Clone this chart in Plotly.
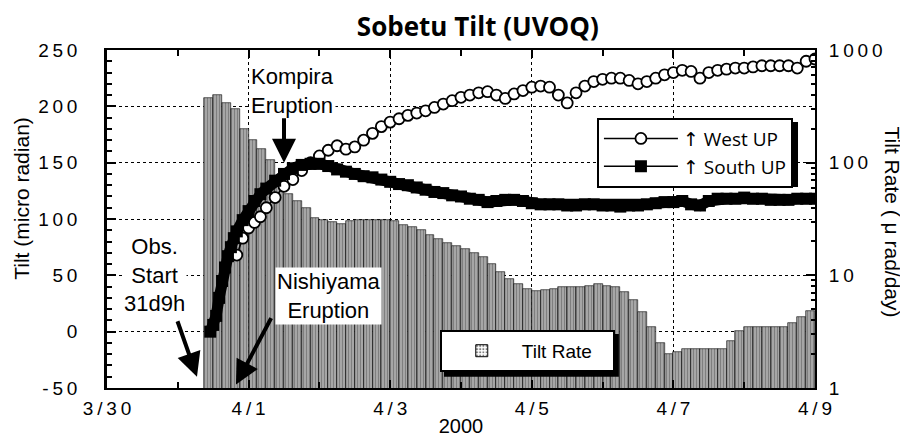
import pandas as pd
import plotly.graph_objects as go

# ---------------- data ----------------
# Tilt rate (micro rad/day), 3-hourly bars starting 2000-03-31 09:00
rate = [372, 398, 339, 302, 200, 158, 132, 105, 70.8, 52.5,
        45.7, 39.8, 32.4, 30.9, 29.5, 28.8, 30.2, 30.9, 30.9, 30.9,
        30.9, 30.2, 28.2, 26.9, 25.1, 22.9, 20.9, 19.5, 18.2, 17.0,
        15.8, 14.5, 12.6, 10.7, 9.3, 8.3, 7.6, 7.2, 7.4, 7.6,
        7.8, 7.8, 7.9, 8.1, 8.3, 8.1, 7.8, 7.1, 6.0, 4.7,
        3.5, 2.5, 2.0, 2.1, 2.2, 2.2, 2.2, 2.2, 2.2, 2.6,
        3.2, 3.5, 3.5, 3.5, 3.5, 3.5, 3.8, 4.3, 4.8]

# sample times of the tilt series: hours after 2000-03-31 00:00
line_hours = [11, 12, 13, 14, 15, 16, 17, 18, 19, 20, 22, 24, 26, 28, 30,
              33, 36, 39, 42, 45, 48, 51, 54, 57, 60,
              63, 66, 69, 72, 75, 78, 81, 84, 87, 90,
              93, 96, 99, 102, 105, 108, 111, 114, 117, 120,
              123, 126, 129, 132, 135, 138, 141, 144, 147, 150,
              153, 156, 159, 162, 165, 168, 171, 174, 177, 180,
              183, 186, 189, 192, 195, 198, 201, 204, 207, 210,
              213, 216]

south_up = [0, 6, 14, 30, 45, 57, 67, 75, 83, 89, 99, 107, 116, 122, 127,
            134, 140, 145, 148, 149, 149, 147, 144, 142, 140,
            138, 137, 135, 133, 131, 130, 128, 126, 124, 123,
            121, 120, 118, 117, 115, 116, 117, 117, 116, 114,
            113, 113, 113, 112, 112, 113, 113, 112, 112, 111,
            112, 112, 113, 114, 115, 115, 116, 113, 112, 116,
            118, 118, 118, 119, 118, 118, 117, 117, 117, 118,
            118, 118]

west_up = [None, None, None, None, None, None, None, None, None, 68, 83, 92, 97, 102, 110,
           119, 129, 135, 143, 150, 156, 161, 165, 162, 164,
           170, 176, 182, 186, 189, 192, 194, 196, 199, 202,
           205, 208, 210, 212, 213, 210, 207, 211, 214, 217,
           218, 217, 210, 203, 212, 218, 222, 224, 225, 225,
           223, 220, 222, 225, 228, 230, 232, 231, 225, 230,
           232, 233, 234, 234, 235, 236, 236, 236, 236, 234,
           240, 242]

x_tick_dates = ["2000-03-30", "2000-04-01", "2000-04-03", "2000-04-05", "2000-04-07", "2000-04-09"]
x_tick_labels = ["3/30", "4/1", "4/3", "4/5", "4/7", "4/9"]
left_ticks = [-50, 0, 50, 100, 150, 200, 250]
right_ticks = [1, 10, 100, 1000]

# ---------------- build ----------------
thin = "\u2009"
spaced = lambda s: thin.join(str(s))

t0 = pd.Timestamp("2000-03-31 00:00")
bar_x = pd.date_range("2000-03-31 10:30", periods=len(rate), freq="3h")
line_x = [t0 + pd.Timedelta(hours=h) for h in line_hours]

TICKFONT = dict(family="Liberation Sans, Arial", size=19, color="black")
TXT = dict(family="Liberation Sans, Arial", size=22, color="black")
nb = "\u00a0"

fig = go.Figure()

fig.add_trace(go.Bar(
    x=bar_x, y=rate, width=3 * 3600 * 1000, yaxis="y", name="Tilt Rate",
    legend="legend2", showlegend=False,
    marker=dict(color="white",
                pattern=dict(shape="|", fgcolor="black", bgcolor="white", size=3, solidity=0.8),
                line=dict(color="black", width=0.6)),
))
fig.add_trace(go.Bar(
    x=[None], y=[None], yaxis="y", name="Tilt Rate" + nb * 3, legend="legend2",
    marker=dict(color="white",
                pattern=dict(shape=".", fgcolor="black", bgcolor="white", size=4, solidity=0.35),
                line=dict(color="black", width=1)),
))
# thick band drawn under the South markers
fig.add_trace(go.Scatter(
    x=line_x, y=south_up, yaxis="y2", mode="lines", showlegend=False, hoverinfo="skip",
    line=dict(color="black", width=11),
))
fig.add_trace(go.Scatter(
    x=line_x, y=west_up, yaxis="y2", name="\u2191 West UP", mode="lines+markers",
    line=dict(color="black", width=1.5),
    marker=dict(symbol="circle", size=11, color="white", line=dict(color="black", width=1.8)),
))
fig.add_trace(go.Scatter(
    x=line_x, y=south_up, yaxis="y2", name="\u2191 South UP", mode="lines+markers",
    line=dict(color="black", width=1.5),
    marker=dict(symbol="square", size=12, color="black", line=dict(color="black", width=0)),
))

fig.update_layout(
    width=900, height=433,
    margin=dict(l=99, r=93, t=42, b=53, autoexpand=False),
    paper_bgcolor="white", plot_bgcolor="white",
    barmode="overlay", bargap=0,
    title=dict(text="<b>Sobetu Tilt (UVOQ)</b>", x=0.522, xanchor="center", y=0.957, yanchor="middle",
               font=dict(family="Open Sans", size=26, color="black")),
    xaxis=dict(
        type="date", range=["2000-03-30", "2000-04-09"], automargin=False,
        tickmode="array", tickvals=x_tick_dates, ticktext=[spaced(s) for s in x_tick_labels],
        ticks="inside", ticklen=8, tickwidth=1.5, tickcolor="black",
        showline=True, linewidth=2, linecolor="black", mirror="ticks",
        showgrid=True, gridcolor="black", griddash="dot", gridwidth=1,
        minor=dict(dtick=86400000, ticks="inside", ticklen=6, tickcolor="black", showgrid=False),
        tickfont=TICKFONT, ticklabelstandoff=2,
        title=dict(text="2000", font=dict(family="Liberation Sans, Arial", size=20, color="black"), standoff=1),
        zeroline=False,
    ),
    yaxis=dict(
        type="log", range=[0, 3], side="right", automargin=False,
        tickmode="array", tickvals=right_ticks, ticktext=[spaced(v) for v in right_ticks],
        ticks="inside", ticklen=9, tickwidth=1.5, tickcolor="black",
        minor=dict(tickvals=[2, 3, 4, 5, 6, 7, 8, 9, 20, 30, 40, 50, 60, 70, 80, 90,
                             200, 300, 400, 500, 600, 700, 800, 900],
                   ticks="inside", ticklen=4, tickcolor="black", showgrid=False),
        showline=True, linewidth=2, linecolor="black",
        showgrid=False, zeroline=False,
        tickfont=TICKFONT, ticklabelstandoff=8,
    ),
    yaxis2=dict(
        overlaying="y", side="left", range=[-50, 250], automargin=False,
        tickmode="array", tickvals=left_ticks, ticktext=[spaced(v) for v in left_ticks],
        ticks="inside", ticklen=9, tickwidth=1.5, tickcolor="black",
        minor=dict(dtick=10, ticks="inside", ticklen=5, tickcolor="black", showgrid=False),
        showline=True, linewidth=2.5, linecolor="black",
        showgrid=True, gridcolor="black", griddash="dot", gridwidth=1,
        zeroline=False,
        tickfont=TICKFONT, ticklabelstandoff=23,
    ),
    legend=dict(x=0.692, y=0.80, xanchor="left", yanchor="top",
                bordercolor="black", borderwidth=2, bgcolor="white",
                font=dict(family="Open Sans, DejaVu Sans", size=19, color="black"),
                itemwidth=74, tracegroupgap=0),
    legend2=dict(x=0.47, y=0.172, xanchor="left", yanchor="top",
                 bordercolor="black", borderwidth=2, bgcolor="white",
                 font=dict(family="Liberation Sans, Arial", size=19, color="black"),
                 itemwidth=70),
    shapes=[
        # drop shadows of the two legend boxes
        dict(type="rect", xref="paper", yref="paper", x0=0.700, x1=0.976, y0=0.595, y1=0.787,
             fillcolor="black", line=dict(width=0), layer="above"),
        dict(type="rect", xref="paper", yref="paper", x0=0.476, x1=0.723, y0=0.033, y1=0.160,
             fillcolor="black", line=dict(width=0), layer="above"),
    ],
)

annots = [
    # axis titles
    dict(text="Tilt (micro radian)", xref="paper", yref="paper", x=-0.12, y=0.56,
         xanchor="center", yanchor="middle",
         textangle=-90, showarrow=False, font=dict(family="Liberation Sans, Arial", size=21, color="black")),
    dict(text="Tilt Rate ( \u03bc rad/day)", xref="paper", yref="paper", x=1.11, y=0.49,
         xanchor="center", yanchor="middle",
         textangle=90, showarrow=False, font=dict(family="Liberation Sans, Arial", size=21, color="black")),
    # labels
    dict(text="Kompira<br>Eruption", xref="x", yref="y2", x="2000-04-01 14:43", y=214,
         showarrow=False, bgcolor="white", font=TXT),
    dict(text="Obs.<br>Start<br>31d9h", xref="x", yref="y2", x="2000-03-30 16:16", y=50,
         showarrow=False, bgcolor="white", font=TXT),
    dict(text="Nishiyama<br>Eruption", xref="x", yref="y2", x="2000-04-02 03:15", y=32,
         showarrow=False, bgcolor="white", font=TXT),
    # arrows
    dict(text="", xref="x", yref="y2", x="2000-04-01 12:00", y=150, ax=0, ay=-46,
         showarrow=True, arrowhead=2, arrowsize=1.2, arrowwidth=4, arrowcolor="black"),
    dict(text="", xref="x", yref="y2", x="2000-03-31 06:30", y=-40, ax=-20, ay=-57,
         showarrow=True, arrowhead=2, arrowsize=1.2, arrowwidth=4, arrowcolor="black"),
    dict(text="", xref="x", yref="y2", x="2000-03-31 19:43", y=-47, ax=36, ay=-68,
         showarrow=True, arrowhead=2, arrowsize=1.2, arrowwidth=4, arrowcolor="black"),
]
fig.update_layout(annotations=annots)

fig.write_html("out.html")
